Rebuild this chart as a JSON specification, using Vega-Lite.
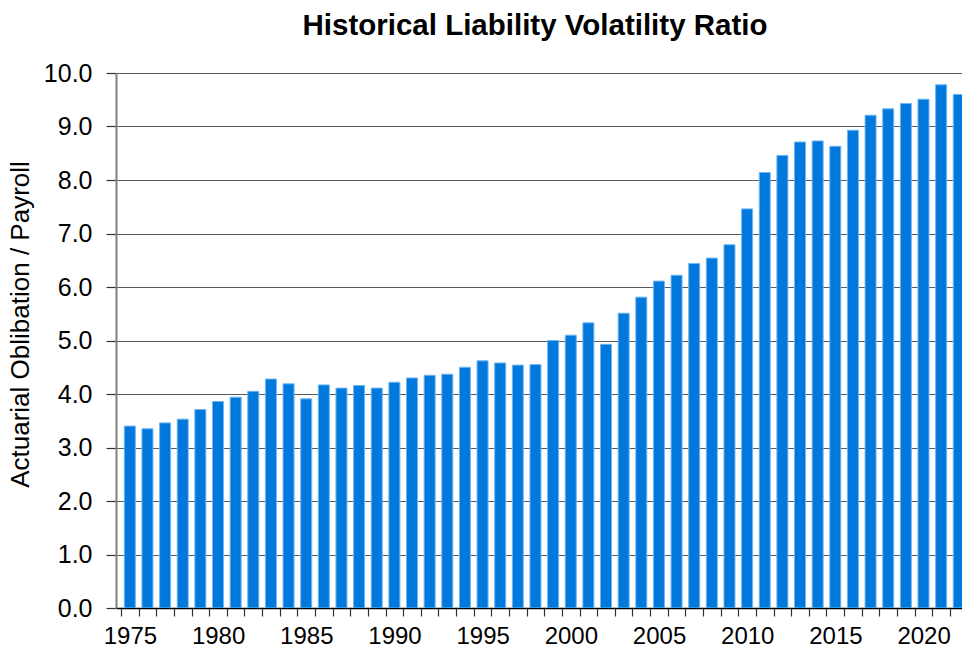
{
  "$schema": "https://vega.github.io/schema/vega-lite/v6.json",
  "width": 846,
  "height": 535,
  "autosize": {"type": "none"},
  "padding": {"left": 116, "top": 73, "right": 0, "bottom": 41},
  "background": "white",
  "title": {
    "text": "Historical Liability Volatility Ratio",
    "font": "Liberation Sans",
    "fontSize": 29.5,
    "fontWeight": "bold",
    "color": "#000000",
    "anchor": "middle",
    "frame": "group",
    "baseline": "alphabetic",
    "offset": -3,
    "dx": -4
  },
  "data": {
    "values": [
      {"year": 1975, "ratio": 3.40},
      {"year": 1976, "ratio": 3.35},
      {"year": 1977, "ratio": 3.46},
      {"year": 1978, "ratio": 3.53},
      {"year": 1979, "ratio": 3.71},
      {"year": 1980, "ratio": 3.86},
      {"year": 1981, "ratio": 3.94},
      {"year": 1982, "ratio": 4.05},
      {"year": 1983, "ratio": 4.28},
      {"year": 1984, "ratio": 4.19},
      {"year": 1985, "ratio": 3.91},
      {"year": 1986, "ratio": 4.17},
      {"year": 1987, "ratio": 4.11},
      {"year": 1988, "ratio": 4.16},
      {"year": 1989, "ratio": 4.11},
      {"year": 1990, "ratio": 4.22},
      {"year": 1991, "ratio": 4.30},
      {"year": 1992, "ratio": 4.35},
      {"year": 1993, "ratio": 4.37},
      {"year": 1994, "ratio": 4.50},
      {"year": 1995, "ratio": 4.62},
      {"year": 1996, "ratio": 4.58},
      {"year": 1997, "ratio": 4.54},
      {"year": 1998, "ratio": 4.55},
      {"year": 1999, "ratio": 5.00},
      {"year": 2000, "ratio": 5.10},
      {"year": 2001, "ratio": 5.33},
      {"year": 2002, "ratio": 4.93},
      {"year": 2003, "ratio": 5.51},
      {"year": 2004, "ratio": 5.81},
      {"year": 2005, "ratio": 6.11},
      {"year": 2006, "ratio": 6.22},
      {"year": 2007, "ratio": 6.44},
      {"year": 2008, "ratio": 6.54},
      {"year": 2009, "ratio": 6.79},
      {"year": 2010, "ratio": 7.46},
      {"year": 2011, "ratio": 8.14},
      {"year": 2012, "ratio": 8.46},
      {"year": 2013, "ratio": 8.71},
      {"year": 2014, "ratio": 8.73},
      {"year": 2015, "ratio": 8.63},
      {"year": 2016, "ratio": 8.93},
      {"year": 2017, "ratio": 9.21},
      {"year": 2018, "ratio": 9.33},
      {"year": 2019, "ratio": 9.43},
      {"year": 2020, "ratio": 9.51},
      {"year": 2021, "ratio": 9.78},
      {"year": 2022, "ratio": 9.60}
    ]
  },
  "mark": {
    "type": "bar",
    "width": 11,
    "fill": "#0078DC",
    "stroke": "#6fb6f2",
    "strokeWidth": 1,
    "clip": true
  },
  "encoding": {
    "x": {
      "field": "year",
      "type": "quantitative",
      "scale": {"domain": [1974.5, 2021.9], "nice": false, "zero": false},
      "axis": {
        "title": null,
        "values": [1974.5, 1975.5, 1976.5, 1977.5, 1978.5, 1979.5, 1980.5, 1981.5, 1982.5, 1983.5, 1984.5, 1985.5, 1986.5, 1987.5, 1988.5, 1989.5, 1990.5, 1991.5, 1992.5, 1993.5, 1994.5, 1995.5, 1996.5, 1997.5, 1998.5, 1999.5, 2000.5, 2001.5, 2002.5, 2003.5, 2004.5, 2005.5, 2006.5, 2007.5, 2008.5, 2009.5, 2010.5, 2011.5, 2012.5, 2013.5, 2014.5, 2015.5, 2016.5, 2017.5, 2018.5, 2019.5, 2020.5, 2021.5],
        "labelExpr": "(datum.value + 0.5) % 5 == 0 ? format(datum.value + 0.5, 'd') : ''",
        "labelOffset": 8.92,
        "labelOverlap": false,
        "labelBound": false,
        "labelFlush": false,
        "labelFont": "Liberation Sans",
        "labelFontSize": 24,
        "labelColor": "#000000",
        "labelPadding": 8,
        "grid": false,
        "domainColor": "#000000",
        "domainWidth": 1.5,
        "tickColor": "#333333",
        "tickSize": 8,
        "tickWidth": 1.2
      }
    },
    "y": {
      "field": "ratio",
      "type": "quantitative",
      "scale": {"domain": [0, 10], "nice": false},
      "axis": {
        "title": "Actuarial Oblibation / Payroll",
        "titleFont": "Liberation Sans",
        "titleFontSize": 26,
        "titleFontWeight": "normal",
        "titleColor": "#000000",
        "titleX": -83,
        "titleY": 251,
        "values": [0, 1, 2, 3, 4, 5, 6, 7, 8, 9, 10],
        "format": ".1f",
        "labelFont": "Liberation Sans",
        "labelFontSize": 25,
        "labelColor": "#000000",
        "labelPadding": 14,
        "grid": true,
        "gridColor": "#595959",
        "gridWidth": 1,
        "domainColor": "#808080",
        "domainWidth": 2,
        "tickColor": "#333333",
        "tickSize": 10,
        "tickWidth": 1.2
      }
    }
  },
  "config": {
    "view": {"stroke": null}
  }
}
